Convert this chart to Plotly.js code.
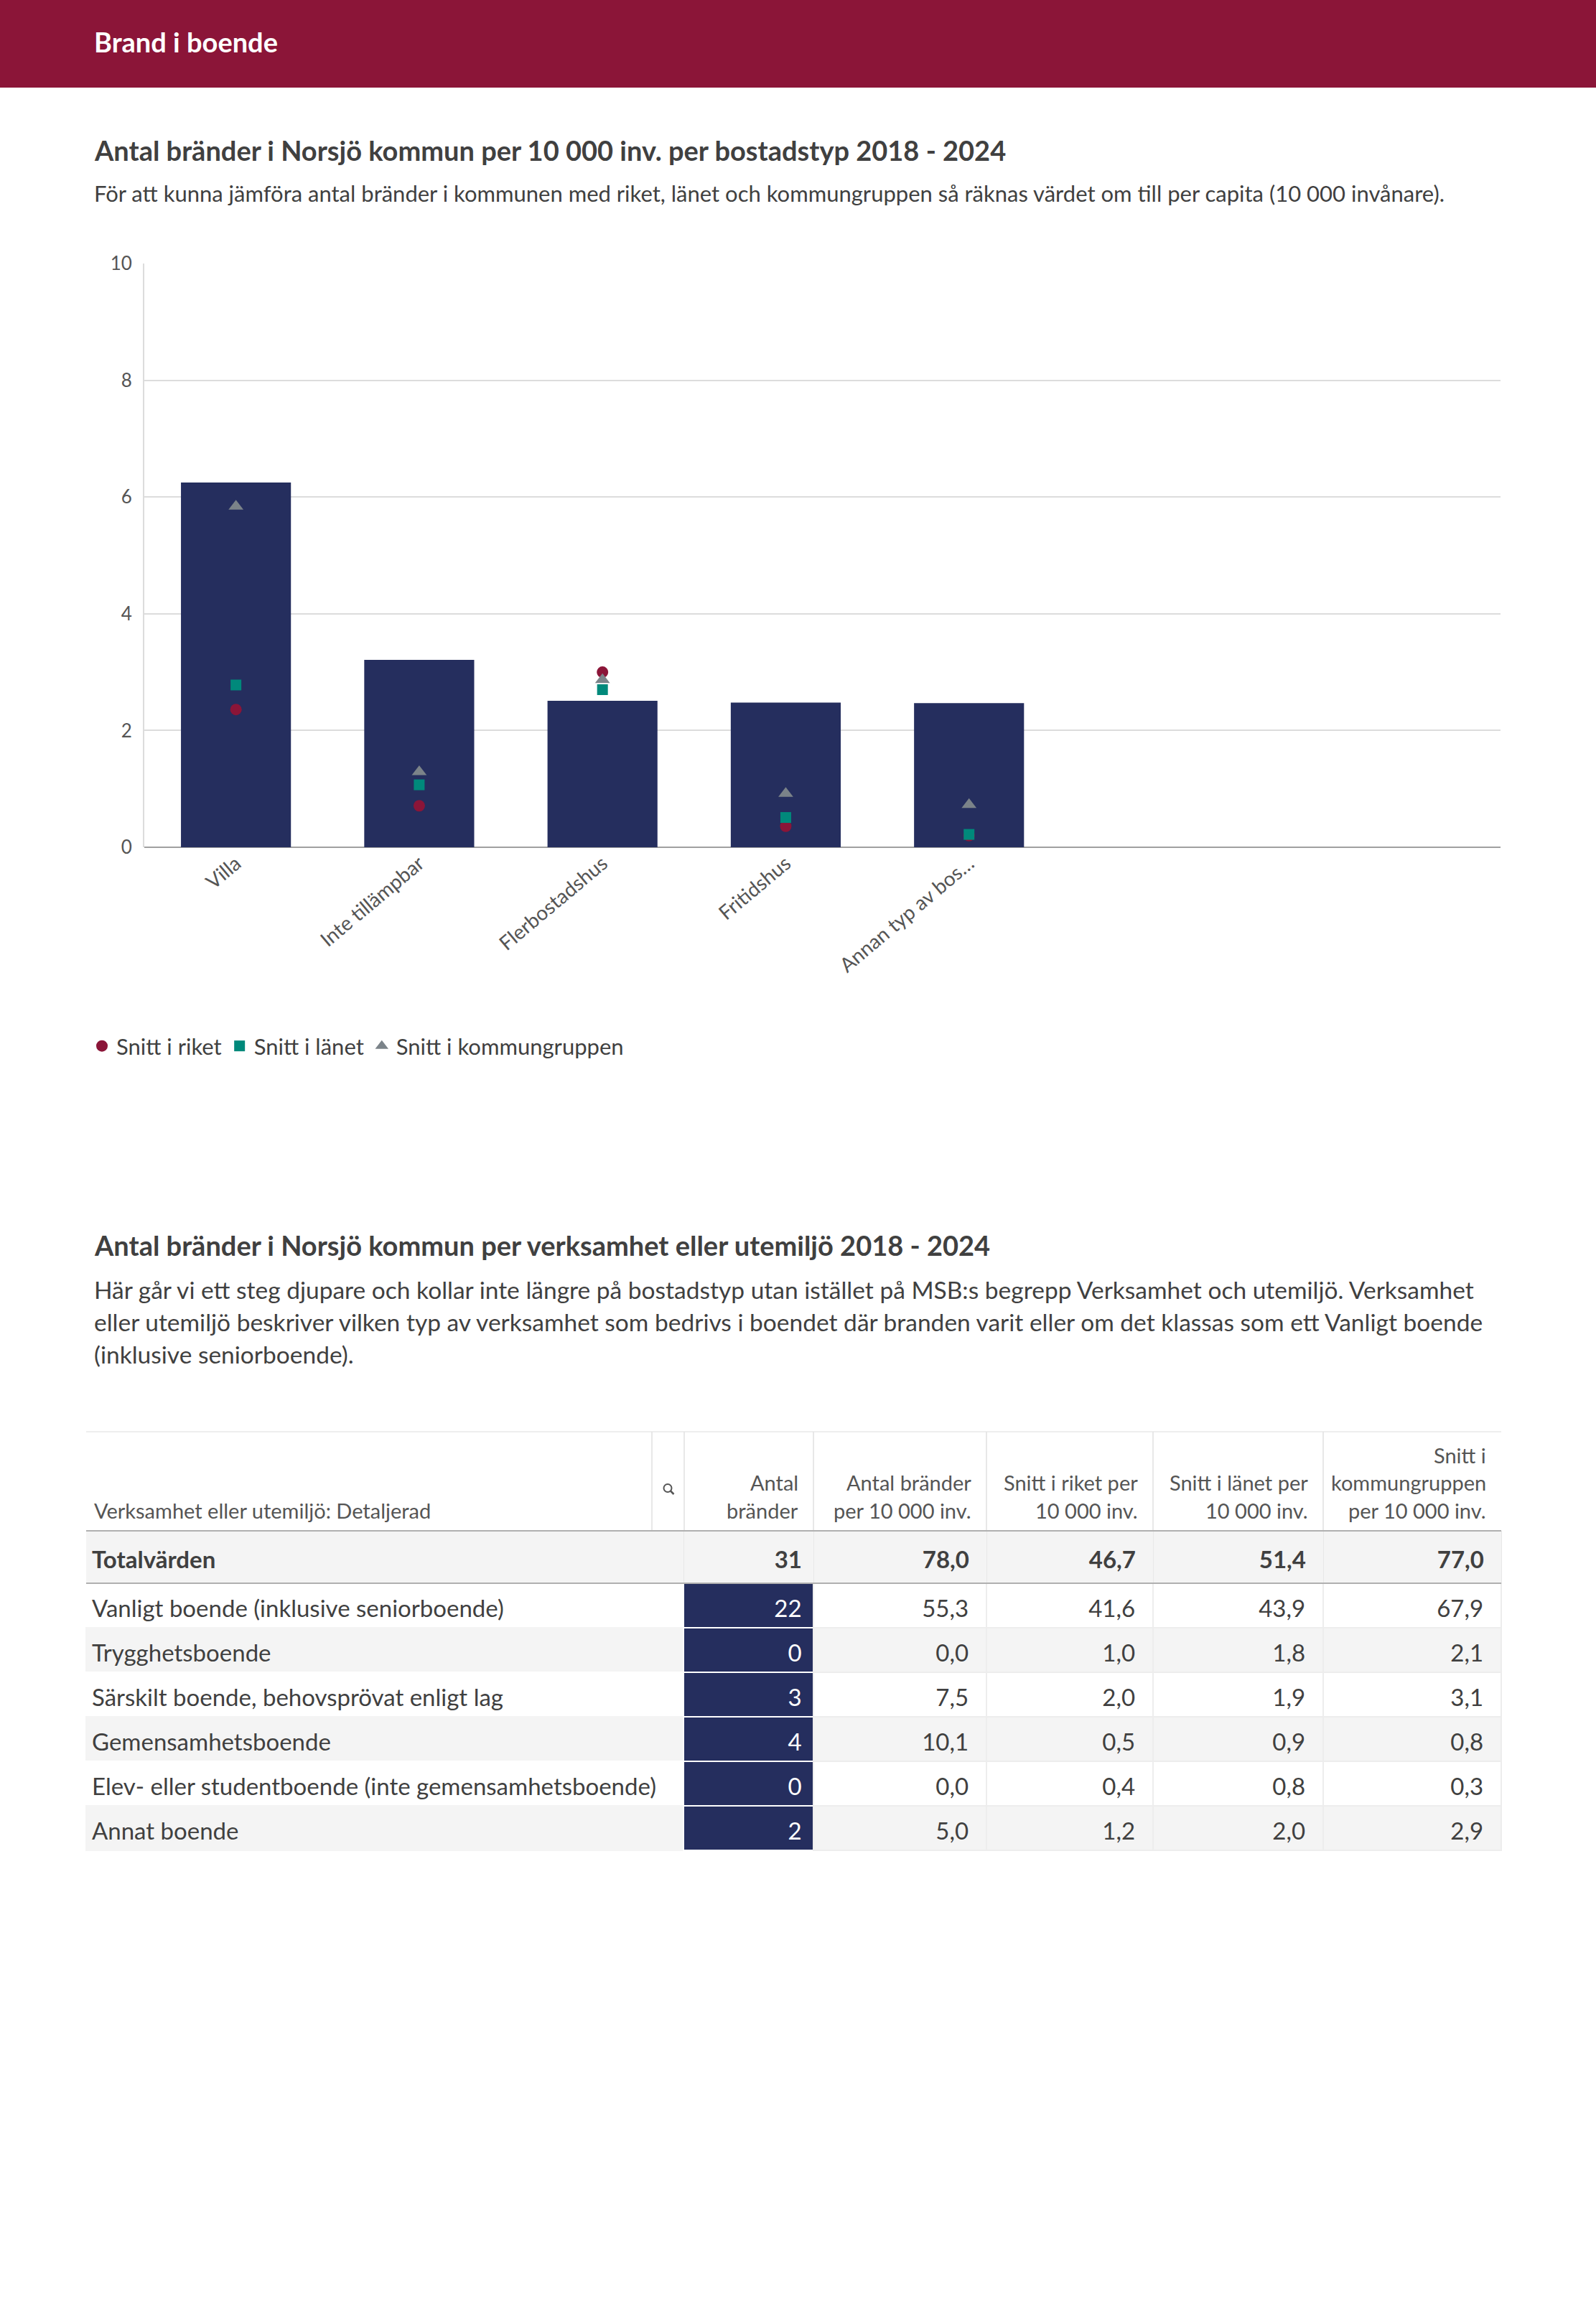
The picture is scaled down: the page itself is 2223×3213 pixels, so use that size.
<!DOCTYPE html>
<html><head><meta charset="utf-8">
<script src="https://cdn.plot.ly/plotly-3.0.1.min.js"></script>
<style>html,body{margin:0;padding:0;background:#fff}#chart{width:2223px;height:3213px}</style>
</head><body><div id="chart"></div>
<script>
// ---- Chart data ----
const categories = ["Villa", "Inte tillämpbar", "Flerbostadshus", "Fritidshus", "Annan typ av bos…"];
const kommunValues = [6.25, 3.21, 2.51, 2.48, 2.47];
const riketValues = [2.36, 0.71, 3.00, 0.36, 0.20];
const lanetValues = [2.78, 1.07, 2.70, 0.51, 0.22];
const kommungruppValues = [5.84, 1.29, 2.87, 0.92, 0.73];
const yTickValues = [0, 2, 4, 6, 8, 10];
const seriesNames = ["Snitt i riket", "Snitt i länet", "Snitt i kommungruppen"];

// ---- Table data ----
const headerLines = [
  ["Verksamhet eller utemiljö: Detaljerad"],
  ["Antal", "bränder"],
  ["Antal bränder", "per 10 000 inv."],
  ["Snitt i riket per", "10 000 inv."],
  ["Snitt i länet per", "10 000 inv."],
  ["Snitt i", "kommungruppen", "per 10 000 inv."]
];
const totalLabel = "Totalvärden";
const totalValues = [31, 78.0, 46.7, 51.4, 77.0];
const rowLabels = [
  "Vanligt boende (inklusive seniorboende)",
  "Trygghetsboende",
  "Särskilt boende, behovsprövat enligt lag",
  "Gemensamhetsboende",
  "Elev- eller studentboende (inte gemensamhetsboende)",
  "Annat boende"
];
const antalBrander = [22, 0, 3, 4, 0, 2];
const antalPer10000 = [55.3, 0.0, 7.5, 10.1, 0.0, 5.0];
const snittRiket = [41.6, 1.0, 2.0, 0.5, 0.4, 1.2];
const snittLanet = [43.9, 1.8, 1.9, 0.9, 0.8, 2.0];
const snittKommungrupp = [67.9, 2.1, 3.1, 0.8, 0.3, 2.9];

// ---- helpers (page pixel -> paper fraction) ----
const W = 2223, H = 3213;
const fx = p => p / W;
const fy = p => 1 - p / H;
const fmt1 = v => v.toFixed(1).replace(".", ",");
const fmt0 = v => String(v);

const FONT = "Lato, 'Open Sans', sans-serif";
const TXT = "#404040";
const NAVY = "#252e5e";
const MAROON = "#8b1538";
const TEAL = "#00897b";
const GREY = "#7b8389";
const ROWGREY = "#f4f4f4";
const CLEAR = "rgba(0,0,0,0)";

const traces = [];
traces.push({
  type: "bar", x: categories, y: kommunValues, marker: {color: NAVY},
  width: 0.6, showlegend: false, hoverinfo: "skip"
});
traces.push({
  type: "scatter", mode: "markers", name: seriesNames[0], x: categories, y: riketValues,
  marker: {symbol: "circle", size: 16, color: MAROON}
});
traces.push({
  type: "scatter", mode: "markers", name: seriesNames[1], x: categories, y: lanetValues,
  marker: {symbol: "square", size: 15, color: TEAL}
});
traces.push({
  type: "scatter", mode: "markers", name: seriesNames[2], x: categories, y: kommungruppValues,
  marker: {symbol: "triangle-up", size: 18, color: GREY}
});

// ---- table geometry ----
const TABLE_L = 120, TABLE_R = 2091;
const colWidths = [832, 181, 241, 232, 237, 248];
const colRights = colWidths.reduce((acc, w) => { acc.push((acc.length ? acc[acc.length - 1] : TABLE_L) + w); return acc; }, []);
const HEAD_TOP = 1994, TOTAL_TOP = 2132, TOTAL_H = 73, ROW_H = 62;
const TOTAL_SHIFT = 19, ROW_SHIFT = 14; // vertical text centring inside cells
const aligns = ["left", "right", "right", "right", "right", "right"];
const numSuffix = ["", "\u00a0", "\u00a0\u00a0", "\u00a0\u00a0", "\u00a0\u00a0", "\u00a0\u00a0"];

const rowFills = rowLabels.map((_, i) => i % 2 === 0 ? "#ffffff" : ROWGREY);
const blank = rowLabels.map(() => "");
const dataColumns = [
  rowLabels,
  antalBrander.map(fmt0),
  antalPer10000.map(fmt1),
  snittRiket.map(fmt1),
  snittLanet.map(fmt1),
  snittKommungrupp.map(fmt1)
];
const totalColumn = [totalLabel, fmt0(totalValues[0])].concat(totalValues.slice(1).map(fmt1));

// background cells (totals row as header, data rows as cells)
traces.push({
  type: "table",
  domain: {x: [fx(TABLE_L), fx(TABLE_R)], y: [fy(2800), fy(TOTAL_TOP)]},
  columnwidth: colWidths,
  header: {
    values: colWidths.map(() => [""]), height: TOTAL_H,
    fill: {color: ROWGREY},
    line: {color: [ROWGREY, "#e8e8e8", "#e8e8e8", "#e8e8e8", "#e8e8e8", "#e8e8e8"], width: 1}
  },
  cells: {
    values: colWidths.map(() => blank), height: ROW_H,
    fill: {color: [rowFills, rowLabels.map(() => NAVY), rowFills, rowFills, rowFills, rowFills]},
    line: {color: [rowFills, rowLabels.map(() => "#ffffff"), "#ededed", "#ededed", "#ededed", "#ededed"], width: 2}
  }
});
// totals text
traces.push({
  type: "table",
  domain: {x: [fx(TABLE_L), fx(TABLE_R)], y: [fy(2800), fy(TOTAL_TOP + TOTAL_SHIFT)]},
  columnwidth: colWidths,
  header: {
    values: totalColumn.map(v => [v]), height: TOTAL_H,
    align: aligns, suffix: numSuffix,
    fill: {color: CLEAR}, line: {width: 0},
    font: {family: FONT, size: 33, color: TXT, weight: 700}
  },
  cells: {values: [], fill: {color: CLEAR}, line: {width: 0}}
});
// data rows text
traces.push({
  type: "table",
  domain: {x: [fx(TABLE_L), fx(TABLE_R)], y: [fy(2800), fy(TOTAL_TOP + ROW_SHIFT)]},
  columnwidth: colWidths,
  header: {values: colWidths.map(() => [""]), height: TOTAL_H, fill: {color: CLEAR}, line: {width: 0}},
  cells: {
    values: dataColumns, height: ROW_H,
    align: aligns, suffix: numSuffix,
    fill: {color: CLEAR}, line: {width: 0},
    font: {family: FONT, size: 33, color: [TXT, "#ffffff", TXT, TXT, TXT, TXT]}
  }
});

const ann = (text, xPx, yPx, size, opts = {}) => Object.assign({
  text, xref: "paper", yref: "paper", x: fx(xPx), y: fy(yPx),
  xanchor: "left", yanchor: "middle", showarrow: false, align: "left",
  font: {family: FONT, size, color: TXT}
}, opts);

const annotations = [
  ann("<b>Brand i boende</b>", 129, 58, 38, {font: {family: FONT, size: 38, color: "#ffffff"}}),
  ann("<b>Antal bränder i Norsjö kommun per 10 000 inv. per bostadstyp 2018 - 2024</b>", 129, 209, 38),
  ann("För att kunna jämföra antal bränder i kommunen med riket, länet och kommungruppen så räknas värdet om till per capita (10 000 invånare).", 129, 269, 31),
  ann("<b>Antal bränder i Norsjö kommun per verksamhet eller utemiljö 2018 - 2024</b>", 129, 1734, 38),
  ann("Här går vi ett steg djupare och kollar inte längre på bostadstyp utan istället på MSB:s begrepp Verksamhet och utemiljö. Verksamhet", 129, 1796, 33.5),
  ann("eller utemiljö beskriver vilken typ av verksamhet som bedrivs i boendet där branden varit eller om det klassas som ett Vanligt boende", 129, 1841, 33.5),
  ann("(inklusive seniorboende).", 129, 1886, 33.5)
];
// column header labels, bottom aligned
const HEAD_LINE_Y = [2026, 2064.5, 2103];
headerLines.forEach((lines, c) => {
  lines.forEach((line, i) => {
    const y = HEAD_LINE_Y[3 - lines.length + i];
    if (c === 0) {
      annotations.push(ann(line, 129, y, 29, {font: {family: FONT, size: 29, color: "#555555"}}));
    } else {
      annotations.push(ann(line, colRights[c] - 19, y, 29, {xanchor: "right", align: "right", font: {family: FONT, size: 29, color: "#555555"}}));
    }
  });
});

const hline = (yPx, color, w) => ({type: "line", xref: "paper", yref: "paper", x0: fx(TABLE_L), x1: fx(TABLE_R), y0: fy(yPx), y1: fy(yPx), line: {color, width: w}});
const vline = (xPx) => ({type: "line", xref: "paper", yref: "paper", x0: fx(xPx), x1: fx(xPx), y0: fy(HEAD_TOP), y1: fy(TOTAL_TOP), line: {color: "#e0e0e0", width: 1.5}});
const shapes = [
  {type: "rect", xref: "paper", yref: "paper", x0: 0, x1: 1, y0: fy(122), y1: 1, fillcolor: MAROON, line: {width: 0}, layer: "below"},
  hline(HEAD_TOP, "#eeeeee", 2),
  vline(908), vline(953),
  ...colRights.slice(1, -1).map(vline),
  hline(TOTAL_TOP, "#b0b0b0", 2),
  hline(TOTAL_TOP + TOTAL_H, "#b0b0b0", 2),
  {type: "circle", xref: "paper", yref: "paper", x0: fx(924.5), x1: fx(935.5), y0: fy(2078), y1: fy(2067), line: {color: "#555555", width: 2}},
  {type: "line", xref: "paper", yref: "paper", x0: fx(934), x1: fx(938.5), y0: fy(2076.5), y1: fy(2081), line: {color: "#555555", width: 2.5}}
];

const layout = {
  width: W, height: H,
  margin: {l: 0, r: 0, t: 0, b: 0},
  paper_bgcolor: "#ffffff", plot_bgcolor: "#ffffff",
  font: {family: FONT, color: TXT},
  showlegend: true,
  legend: {
    orientation: "h", x: fx(122), y: fy(1457), xanchor: "left", yanchor: "middle",
    font: {family: FONT, size: 31, color: TXT}, itemclick: false, tracegroupgap: 0
  },
  xaxis: {
    domain: [fx(201), fx(2090)],
    type: "category", categoryorder: "array", categoryarray: categories,
    range: [-0.5, 6.9], tickangle: -40, showgrid: false, showline: false, zeroline: false,
    ticks: "", tickfont: {family: FONT, size: 28, color: "#555555"}, fixedrange: true
  },
  yaxis: {
    domain: [fy(1180), fy(367)],
    range: [0, 10], tickvals: yTickValues, ticks: "",
    showgrid: true, gridcolor: "#dcdcdc", gridwidth: 2,
    zeroline: true, zerolinecolor: "#a0a0a0", zerolinewidth: 2,
    showline: true, linecolor: "#dcdcdc", linewidth: 2,
    tickfont: {family: FONT, size: 26, color: "#555555"}, ticklabelstandoff: 10, fixedrange: true
  },
  annotations, shapes
};

Plotly.newPlot("chart", traces, layout, {displayModeBar: false, staticPlot: true});
</script>
</body></html>
